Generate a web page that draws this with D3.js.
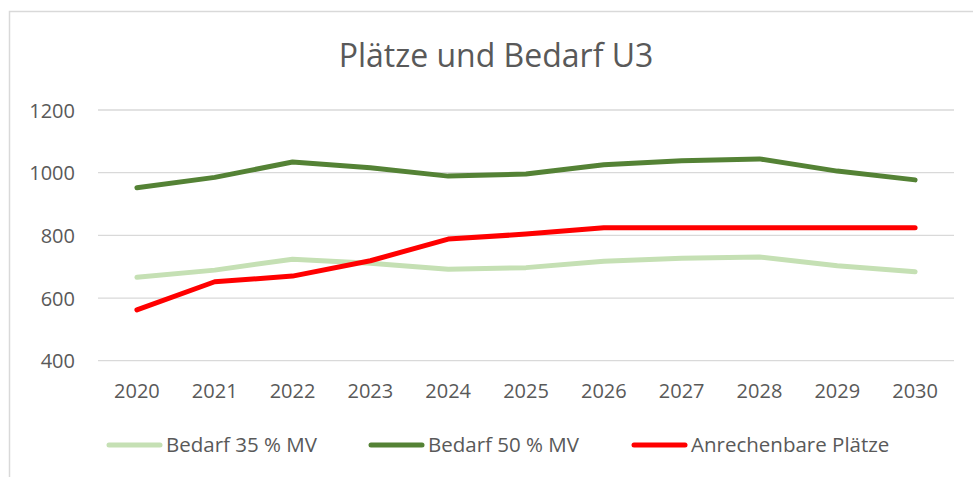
<!DOCTYPE html>
<html>
<head>
<meta charset="utf-8">
<script src="https://cdn.jsdelivr.net/npm/d3@7"></script>
<style>
body{margin:0;background:#fff;}
svg{display:block;font-family:"Open Sans",sans-serif;}
</style>
</head>
<body>
<svg id="chart" width="973" height="477"></svg>
<script>
let width = 973;
let height = 477;

// data
let years = [2020,2021,2022,2023,2024,2025,2026,2027,2028,2029,2030];
let bedarf35 = [666,689,724,711,692,697,717,727,731,703,684];
let bedarf50 = [952,985,1034,1016,989,996,1025,1038,1044,1005,977];
let plaetze = [562,652,670,719,788,804,824,824,824,824,824];
let yTicks = [400,600,800,1000,1200];
let seriesNames = ["Bedarf 35 % MV","Bedarf 50 % MV","Anrechenbare Plätze"];
let seriesColors = ["#C5E0B4","#548235","#FF0000"];

let txt = "#595959";
let grid = "#D9D9D9";

let svg = d3.select("#chart");

// outer chart frame (only left / top visible)
svg.append("rect").attr("x",9.5).attr("y",11.5).attr("width",1000).attr("height",500)
  .style("fill","none").style("stroke",grid).style("stroke-width",1.5);

svg.append("text").attr("x",496).attr("y",67).attr("text-anchor","middle")
  .text("Plätze und Bedarf U3").style("fill",txt).style("font-size","32px");

let x = d3.scaleBand().domain(years).range([98,954]);
let y = d3.scaleLinear().domain([400,1200]).range([360.7,110]);

// gridlines
svg.append("g").selectAll("line").data(yTicks).enter().append("line")
  .attr("x1",98).attr("x2",954).attr("y1",d=>y(d)).attr("y2",d=>y(d))
  .style("stroke",grid).style("stroke-width",1.3);

let yAxis = d3.axisLeft(y).tickValues(yTicks).tickFormat(d3.format("d")).tickSize(0).tickPadding(0);
let gy = svg.append("g").attr("transform","translate(75,0)").call(yAxis);
gy.select(".domain").remove();
gy.selectAll("text").style("fill",txt).style("font-size","20px").style("font-family","Open Sans").attr("dy","0.35em");

let xAxis = d3.axisBottom(x).tickSize(0).tickPadding(0);
let gx = svg.append("g").attr("transform","translate(0,391)").call(xAxis);
gx.select(".domain").remove();
gx.selectAll("text").style("fill",txt).style("font-size","20px").style("font-family","Open Sans").attr("dy","0.35em");

let line = d3.line().x((d,i)=>x(years[i])+x.bandwidth()/2).y(d=>y(d));

[bedarf35,bedarf50,plaetze].forEach((s,k)=>{
  svg.append("path").datum(s).attr("d",line)
    .style("fill","none").style("stroke",seriesColors[k]).style("stroke-width",5)
    .style("stroke-linecap","round").style("stroke-linejoin","round");
});

// legend
let legX = [107,369,632];
seriesNames.forEach((n,k)=>{
  svg.append("line").attr("x1",legX[k]+2).attr("x2",legX[k]+53).attr("y1",445).attr("y2",445)
    .style("stroke",seriesColors[k]).style("stroke-width",5).style("stroke-linecap","round");
  svg.append("text").attr("x",legX[k]+59).attr("y",445).attr("dy","0.35em")
    .text(n).style("fill",txt).style("font-size","20.5px");
});
</script>
</body>
</html>
